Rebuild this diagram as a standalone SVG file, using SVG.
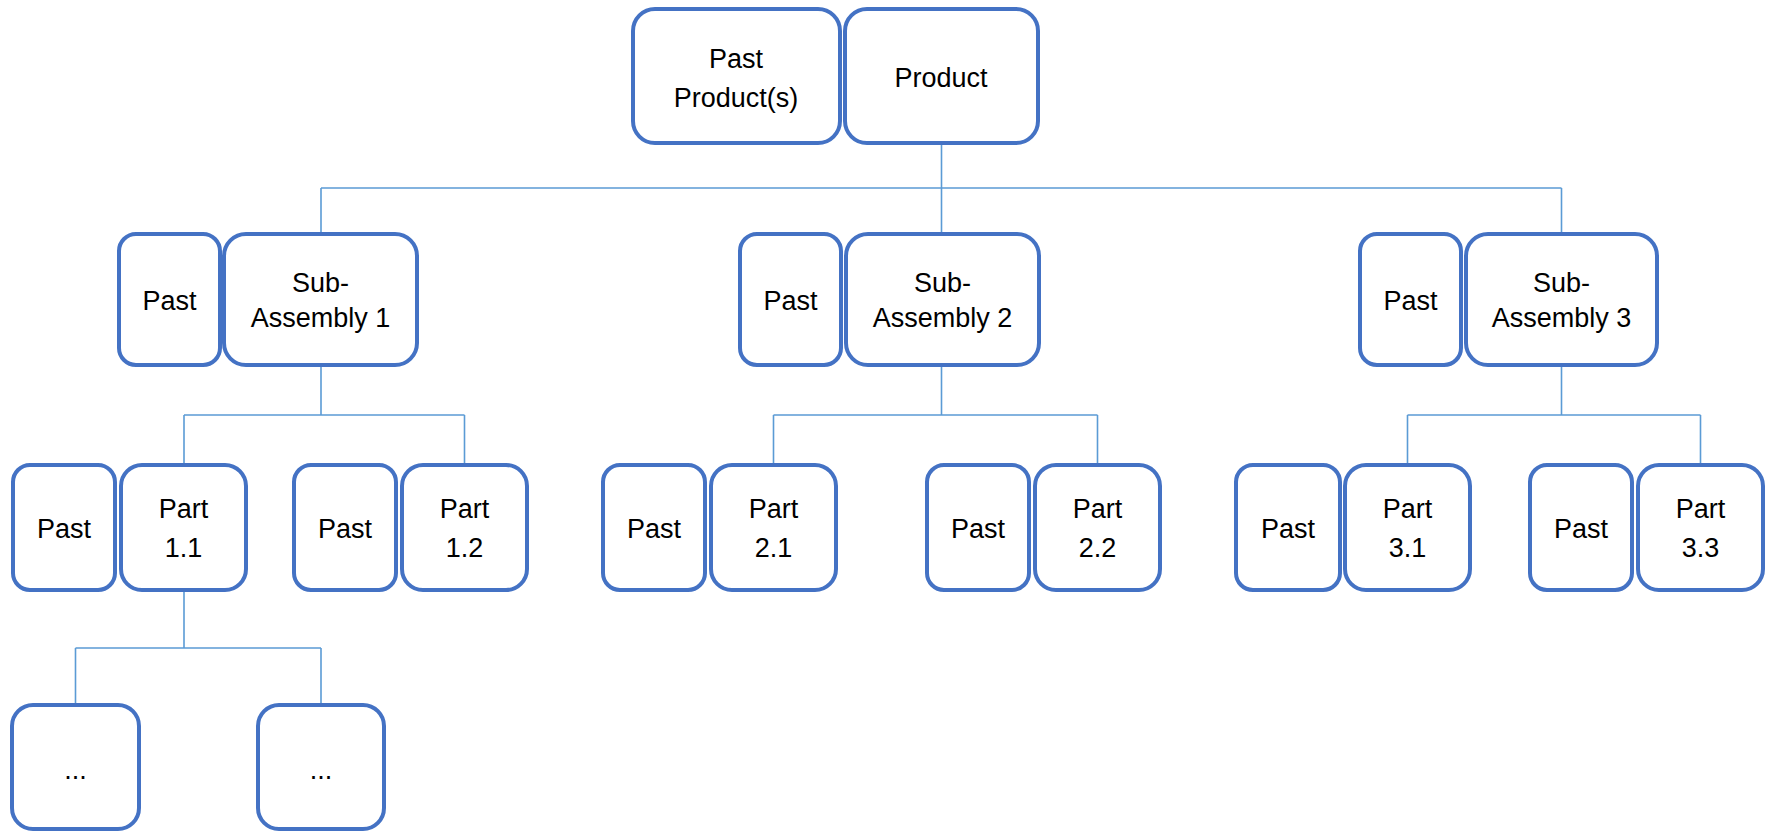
<svg xmlns="http://www.w3.org/2000/svg" width="1771" height="833" viewBox="0 0 1771 833">
<style>
.b{fill:#fff;stroke:#4472C4;stroke-width:4}
.c{fill:none;stroke:#5B9BD5;stroke-width:1.6}
text{font-family:"Liberation Sans",Arial,sans-serif;font-size:27px;fill:#000;text-anchor:middle}
</style>
<rect width="1771" height="833" fill="#fff"/>
<g id="connectors">
<path class="c" d="M941.5 145V232M321 188H1561.5M321 188V232M1561.5 188V232"/>
<path class="c" d="M321 367V415M184 415H464.5M184 415V463M464.5 415V463"/>
<path class="c" d="M941.5 367V415M773.5 415H1097.5M773.5 415V463M1097.5 415V463"/>
<path class="c" d="M1561.5 367V415M1407.5 415H1700.5M1407.5 415V463M1700.5 415V463"/>
<path class="c" d="M184 592V648M75.5 648H321M75.5 648V703M321 648V703"/>
</g>
<g id="past-product"><rect class="b" x="633" y="9" width="207" height="134" rx="22"/><text x="736" y="68">Past</text><text x="736" y="107">Product(s)</text></g>
<g id="product"><rect class="b" x="845" y="9" width="193" height="134" rx="22"/><text x="941" y="87">Product</text></g>

<g id="past-sa1"><rect class="b" x="119" y="234" width="101" height="131" rx="17"/><text x="169.5" y="310">Past</text></g>
<g id="sa1"><rect class="b" x="224" y="234" width="193" height="131" rx="22"/><text x="320.5" y="292">Sub-</text><text x="320.5" y="327">Assembly 1</text></g>
<g id="past-sa2"><rect class="b" x="740" y="234" width="101" height="131" rx="17"/><text x="790.5" y="310">Past</text></g>
<g id="sa2"><rect class="b" x="846" y="234" width="193" height="131" rx="22"/><text x="942.5" y="292">Sub-</text><text x="942.5" y="327">Assembly 2</text></g>
<g id="past-sa3"><rect class="b" x="1360" y="234" width="101" height="131" rx="17"/><text x="1410.5" y="310">Past</text></g>
<g id="sa3"><rect class="b" x="1466" y="234" width="191" height="131" rx="22"/><text x="1561.5" y="292">Sub-</text><text x="1561.5" y="327">Assembly 3</text></g>

<g id="past-p11"><rect class="b" x="13" y="465" width="102" height="125" rx="17"/><text x="64" y="538">Past</text></g>
<g id="p11"><rect class="b" x="121" y="465" width="125" height="125" rx="21"/><text x="183.5" y="518">Part</text><text x="183.5" y="557">1.1</text></g>
<g id="past-p12"><rect class="b" x="294" y="465" width="102" height="125" rx="17"/><text x="345" y="538">Past</text></g>
<g id="p12"><rect class="b" x="402" y="465" width="125" height="125" rx="21"/><text x="464.5" y="518">Part</text><text x="464.5" y="557">1.2</text></g>

<g id="past-p21"><rect class="b" x="603" y="465" width="102" height="125" rx="17"/><text x="654" y="538">Past</text></g>
<g id="p21"><rect class="b" x="711" y="465" width="125" height="125" rx="21"/><text x="773.5" y="518">Part</text><text x="773.5" y="557">2.1</text></g>
<g id="past-p22"><rect class="b" x="927" y="465" width="102" height="125" rx="17"/><text x="978" y="538">Past</text></g>
<g id="p22"><rect class="b" x="1035" y="465" width="125" height="125" rx="21"/><text x="1097.5" y="518">Part</text><text x="1097.5" y="557">2.2</text></g>

<g id="past-p31"><rect class="b" x="1236" y="465" width="104" height="125" rx="17"/><text x="1288" y="538">Past</text></g>
<g id="p31"><rect class="b" x="1345" y="465" width="125" height="125" rx="21"/><text x="1407.5" y="518">Part</text><text x="1407.5" y="557">3.1</text></g>
<g id="past-p33"><rect class="b" x="1530" y="465" width="102" height="125" rx="17"/><text x="1581" y="538">Past</text></g>
<g id="p33"><rect class="b" x="1638" y="465" width="125" height="125" rx="21"/><text x="1700.5" y="518">Part</text><text x="1700.5" y="557">3.3</text></g>

<g id="sub1"><rect class="b" x="12" y="705" width="127" height="124" rx="21"/><text x="75.5" y="779">...</text></g>
<g id="sub2"><rect class="b" x="258" y="705" width="126" height="124" rx="21"/><text x="321" y="779">...</text></g>
</svg>
